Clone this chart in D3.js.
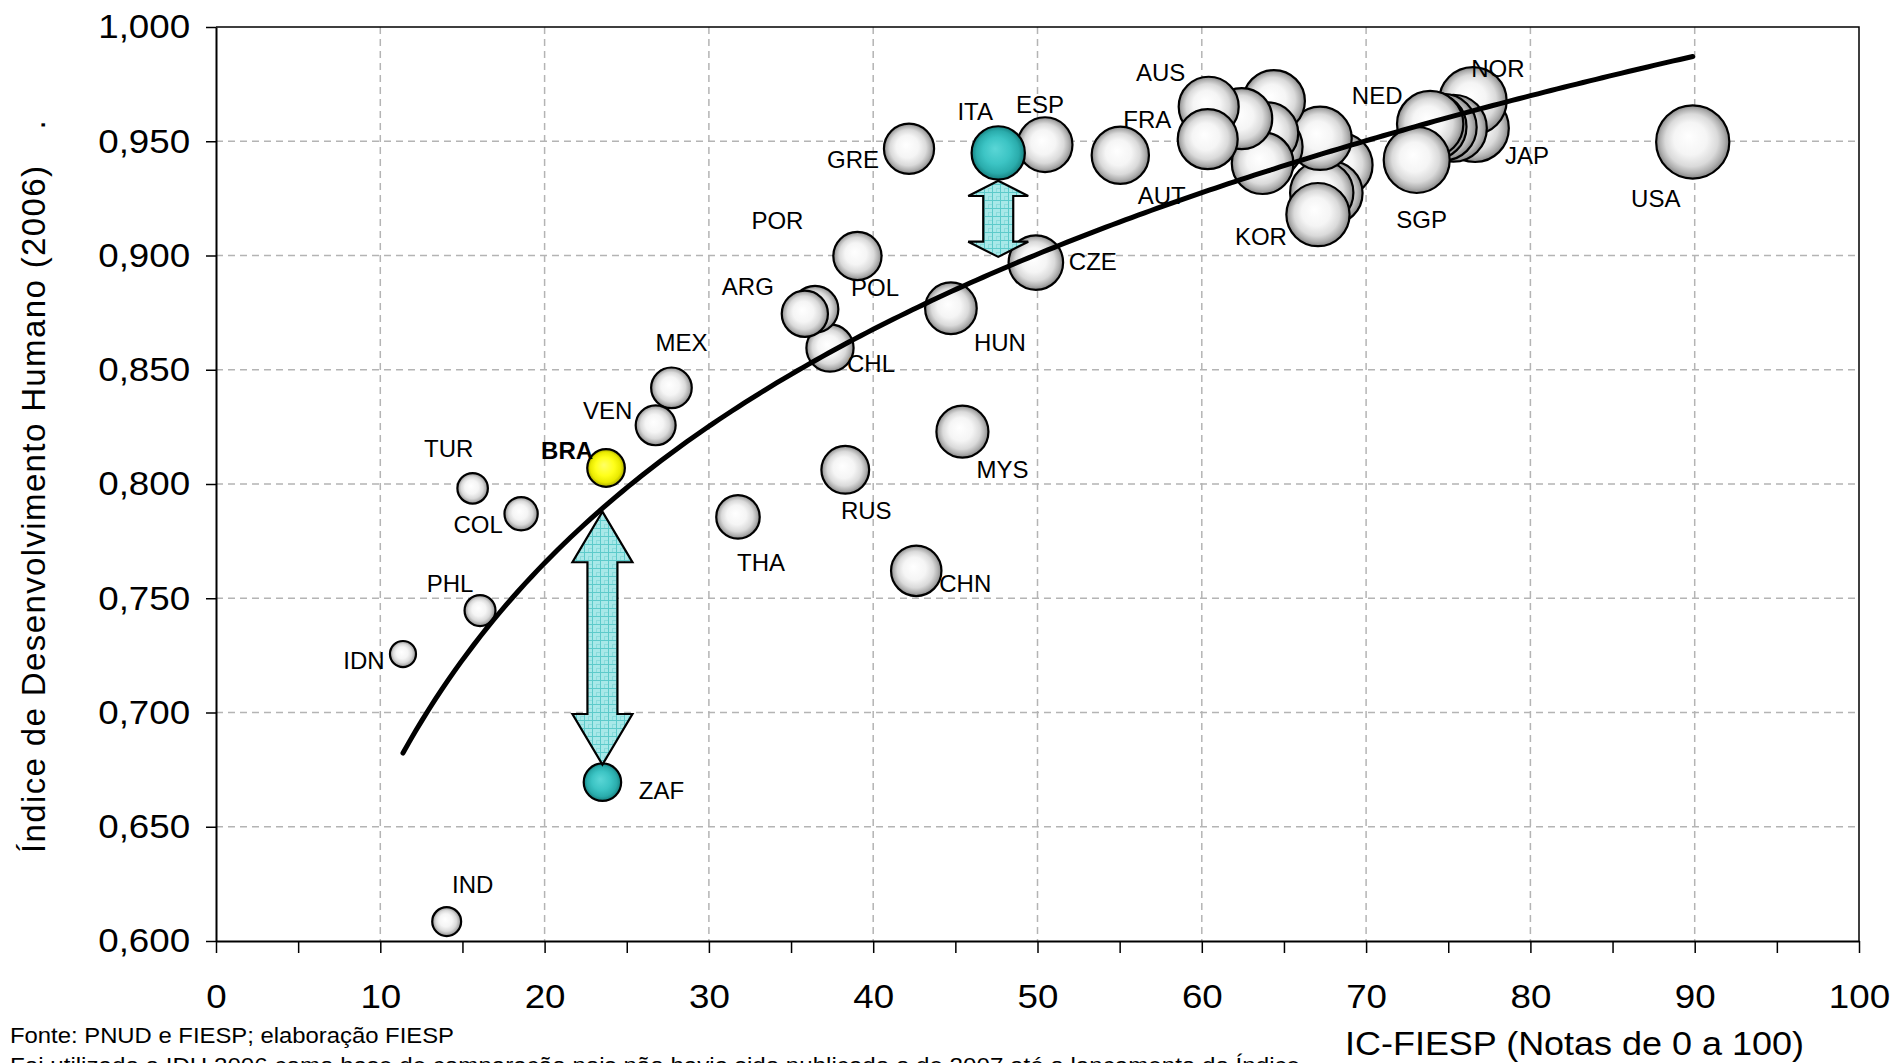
<!DOCTYPE html>
<html>
<head>
<meta charset="utf-8">
<script src="https://cdn.jsdelivr.net/npm/d3@7/dist/d3.min.js"></script>
<style>
  body { margin: 0; background: #fff; }
  text { font-family: "Liberation Sans", Arial, sans-serif; }
</style>
</head>
<body>
<div id="chart"></div>
<script>
// --- data ---
// country codes ("" = bubble without a label in the original)
var countries = ["USA","JAP","NOR","","","","NED","SGP","","","","","KOR","","","","","",
                 "AUS","AUT","FRA","ESP","CZE","ITA","MYS","HUN","CHN","GRE","POR","RUS",
                 "CHL","POL","ARG","THA","MEX","VEN","BRA","ZAF","COL","PHL","TUR","IND","IDN"];
// IC-FIESP score (x, also bubble size)
var icFiesp = [89.88,76.63,76.50,75.31,74.70,74.09,73.90,73.08,68.45,67.85,67.30,67.20,67.07,64.39,64.25,63.99,63.70,62.43,
               60.42,60.36,55.04,50.46,49.90,47.61,45.43,44.73,42.62,42.18,39.04,38.30,
               37.37,36.46,35.84,31.77,27.72,26.76,23.74,23.52,18.57,16.07,15.62,14.04,11.38];
// IDH 2006 (y)
var idh = [0.9497,0.9557,0.9677,0.9557,0.9561,0.9564,0.9575,0.9418,0.9396,0.9274,0.9275,0.9513,0.9179,0.9676,0.9476,0.9535,0.9404,0.9599,
           0.9651,0.9509,0.9439,0.9485,0.8969,0.9449,0.8229,0.8769,0.7620,0.9467,0.8998,0.8062,
           0.8595,0.8765,0.8745,0.7856,0.8421,0.8257,0.8070,0.6695,0.7870,0.7446,0.7981,0.6085,0.7256];

// gap arrows: from a country's bubble to the trend line
var arrowCountry = ["ZAF", "ITA"];
var arrowTop = [0.7879, 0.9327];
var arrowBottom = [0.6772, 0.8994];

var xTicks = d3.range(0, 101, 5);
var yTicks = [0.60, 0.65, 0.70, 0.75, 0.80, 0.85, 0.90, 0.95, 1.00];

// --- layout ---
var width = 1892, height = 1063;
var plotL = 216, plotR = 1859, plotT = 27, plotB = 941;
var stretch = 1.08; // tick labels in the original are drawn a bit wide

var labelOffsets = {
  IND:[26,-37], IDN:[-39,6], PHL:[-30,-27], COL:[-43,11], TUR:[-24,-40], BRA:[-39,-18],
  ZAF:[59,8], VEN:[-48,-15], MEX:[10,-45], THA:[23,45], RUS:[21,41], CHN:[49,13],
  MYS:[40,38], HUN:[49,34], CHL:[41,15], POL:[60,-22], ARG:[-57,-27], POR:[-80,-36],
  GRE:[-56,11], ITA:[-23,-42], ESP:[-5,-40], CZE:[57,-1], FRA:[27,-36], AUT:[-46,56],
  AUS:[-48,-34], KOR:[-57,22], NED:[-53,-29], NOR:[25,-32], JAP:[52,27], SGP:[5,59], USA:[-37,56]
};
var highlight = { ITA: "teal", ZAF: "teal", BRA: "yellow" };

var pt = d3.formatLocale({decimal: ",", thousands: ".", grouping: [3], currency: ["", ""]});
var fmtY = pt.format(".3f");

var x = d3.scaleLinear().domain([0, 100]).range([plotL, plotR]);
var y = d3.scaleLinear().domain([0.6, 1.0]).range([plotB, plotT]);
var r = d3.scaleSqrt().domain([0, 100]).range([0, 38.6]);

var svg = d3.select("#chart").append("svg")
    .attr("width", width)
    .attr("height", height);

var defs = svg.append("defs");

function bubbleGrad(id, stops) {
  var g = defs.append("radialGradient").attr("id", id)
      .attr("cx", "50%").attr("cy", "50%").attr("r", "50%")
      .attr("fx", "44%").attr("fy", "42%");
  stops.forEach(function (s) {
    g.append("stop").attr("offset", s[0]).attr("stop-color", s[1]);
  });
}
bubbleGrad("g-white", [["0%","#ffffff"],["45%","#f5f5f5"],["72%","#dadada"],["88%","#b0b0b0"],["100%","#858585"]]);
bubbleGrad("g-teal", [["0%","#5ad6d6"],["50%","#3cc4c4"],["80%","#2aacac"],["100%","#17807f"]]);
bubbleGrad("g-yellow", [["0%","#ffff66"],["50%","#ffff1a"],["80%","#eaea00"],["100%","#a8a800"]]);

var pat = defs.append("pattern").attr("id", "hatch")
    .attr("patternUnits", "userSpaceOnUse").attr("width", 8).attr("height", 8);
pat.append("rect").attr("width", 8).attr("height", 8).attr("fill", "#a8e8e8");
pat.append("path").attr("d", "M0,0.5H8M0.5,0V8").attr("stroke", "#5ccaca").attr("stroke-width", 1);
pat.append("path").attr("d", "M4,4.5H8M4.5,4V8").attr("stroke", "#8adcdc").attr("stroke-width", 1);

// gridlines
var grid = svg.append("g").attr("stroke", "#b4b4b4").attr("stroke-width", 1.5).attr("stroke-dasharray", "7,5");
grid.selectAll("line.v").data(d3.range(10, 100, 10)).join("line")
    .attr("class", "v")
    .attr("x1", d => x(d)).attr("x2", d => x(d))
    .attr("y1", plotT).attr("y2", plotB);
grid.selectAll("line.h").data(yTicks.slice(1, -1)).join("line")
    .attr("class", "h")
    .attr("x1", plotL).attr("x2", plotR)
    .attr("y1", d => y(d)).attr("y2", d => y(d));

// plot frame (top and right)
svg.append("path")
    .attr("d", "M" + plotL + "," + plotT + "H" + plotR + "V" + plotB)
    .attr("fill", "none").attr("stroke", "#000").attr("stroke-width", 1.5);

// axes
var yAxis = svg.append("g")
    .attr("transform", "translate(" + plotL + ",0)")
    .call(d3.axisLeft(y).tickValues(yTicks).tickFormat(fmtY).tickSize(10).tickSizeOuter(0).tickPadding(14));
var xAxis = svg.append("g")
    .attr("transform", "translate(0," + plotB + ")")
    .call(d3.axisBottom(x).tickValues(xTicks).tickFormat(d => d % 10 === 0 ? d : "")
          .tickSize(12).tickSizeOuter(0).tickPadding(31));
[yAxis, xAxis].forEach(function (a) {
  a.select(".domain").attr("stroke", "#000").attr("stroke-width", 2);
  a.selectAll(".tick line").attr("stroke", "#000").attr("stroke-width", 1.5);
  a.selectAll(".tick text").attr("fill", "#000").style("font-size", "34px")
      .style("font-family", '"Liberation Sans", Arial, sans-serif')
      .attr("transform", "scale(" + stretch + ",1)");
});

// bubbles: biggest first so small ones stay on top
var order = d3.range(icFiesp.length).sort((a, b) => icFiesp[b] - icFiesp[a]);
svg.append("g").selectAll("circle").data(order).join("circle")
    .attr("cx", i => x(icFiesp[i]))
    .attr("cy", i => y(idh[i]))
    .attr("r", i => r(icFiesp[i]))
    .attr("fill", i => "url(#g-" + (highlight[countries[i]] || "white") + ")")
    .attr("stroke", "#000")
    .attr("stroke-width", 2.2);

// gap arrows
function arrowPath(cx, yt, yb) {
  var h = yb - yt, hl = h * 0.2, hw = 30, sw = 15;
  return "M" + cx + "," + yt +
    "L" + (cx + hw) + "," + (yt + hl) + "L" + (cx + sw) + "," + (yt + hl) +
    "L" + (cx + sw) + "," + (yb - hl) + "L" + (cx + hw) + "," + (yb - hl) +
    "L" + cx + "," + yb +
    "L" + (cx - hw) + "," + (yb - hl) + "L" + (cx - sw) + "," + (yb - hl) +
    "L" + (cx - sw) + "," + (yt + hl) + "L" + (cx - hw) + "," + (yt + hl) + "Z";
}
svg.append("g").selectAll("path").data(arrowCountry).join("path")
    .attr("d", (c, i) => arrowPath(x(icFiesp[countries.indexOf(c)]), y(arrowTop[i]), y(arrowBottom[i])))
    .attr("fill", "url(#hatch)")
    .attr("stroke", "#000")
    .attr("stroke-width", 2.2)
    .attr("stroke-linejoin", "miter");

// logarithmic trend line (least squares on ln x), over the data range
var lx = icFiesp.map(Math.log);
var mx = d3.mean(lx), my = d3.mean(idh);
var slope = d3.sum(lx, (v, i) => (v - mx) * (idh[i] - my)) / d3.sum(lx, v => (v - mx) * (v - mx));
var intercept = my - slope * mx;
var ext = d3.extent(icFiesp);
var trend = d3.range(0, 201).map(function (k) {
  var xv = ext[0] + (ext[1] - ext[0]) * k / 200;
  return [xv, intercept + slope * Math.log(xv)];
});
svg.append("path")
    .datum(trend)
    .attr("d", d3.line().x(d => x(d[0])).y(d => y(d[1])))
    .attr("fill", "none")
    .attr("stroke", "#000")
    .attr("stroke-width", 5)
    .attr("stroke-linecap", "round");

// country labels
svg.append("g").selectAll("text").data(order.filter(i => countries[i] !== "")).join("text")
    .attr("x", i => x(icFiesp[i]) + labelOffsets[countries[i]][0])
    .attr("y", i => y(idh[i]) + labelOffsets[countries[i]][1])
    .attr("dy", "0.36em")
    .attr("text-anchor", "middle")
    .style("font-size", "24px")
    .style("font-weight", i => countries[i] === "BRA" ? "bold" : "normal")
    .text(i => countries[i]);

// axis titles
svg.append("text")
    .attr("transform", "translate(45," + ((166 + 853) / 2) + ") rotate(-90)")
    .attr("text-anchor", "middle")
    .attr("textLength", 687)
    .attr("lengthAdjust", "spacing")
    .style("font-size", "33px")
    .text("Índice de Desenvolvimento Humano (2006)");
svg.append("text")
    .attr("transform", "translate(45,125) rotate(-90)")
    .attr("text-anchor", "middle")
    .style("font-size", "33px")
    .text(".");
svg.append("text")
    .attr("x", 1345).attr("y", 1055)
    .attr("textLength", 459)
    .attr("lengthAdjust", "spacingAndGlyphs")
    .style("font-size", "33px")
    .text("IC-FIESP (Notas de 0 a 100)");

// source notes
svg.append("text")
    .attr("x", 10).attr("y", 1043)
    .attr("textLength", 444)
    .attr("lengthAdjust", "spacingAndGlyphs")
    .style("font-size", "22px")
    .text("Fonte: PNUD e FIESP; elaboração FIESP");
svg.append("text")
    .attr("x", 10).attr("y", 1073)
    .attr("textLength", 1290)
    .attr("lengthAdjust", "spacingAndGlyphs")
    .style("font-size", "22px")
    .text("Foi utilizado o IDH 2006 como base de comparação pois não havia sido publicado o de 2007 até o lançamento do Índice");
</script>
</body>
</html>
